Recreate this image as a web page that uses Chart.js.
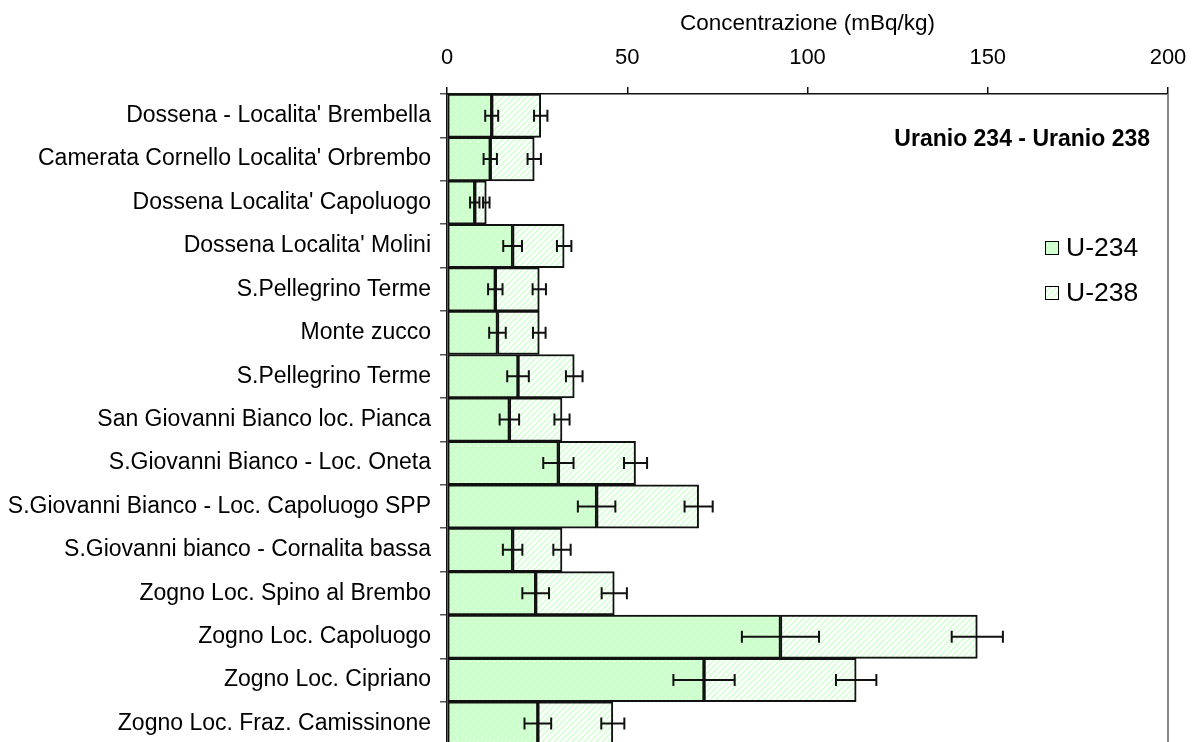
<!DOCTYPE html>
<html>
<head>
<meta charset="utf-8">
<script src="https://cdn.jsdelivr.net/npm/chart.js@4"></script>
<style>
  html,body{margin:0;padding:0;background:#fff;overflow:hidden}
  #wrap{width:1198px;height:768px;position:relative}
</style>
</head>
<body>
<div id="wrap"><canvas id="c"></canvas></div>
<script>
// ====== Dati ======
const siti = [
  "Dossena - Localita' Brembella",
  "Camerata Cornello Localita' Orbrembo",
  "Dossena Localita' Capoluogo",
  "Dossena Localita' Molini",
  "S.Pellegrino Terme",
  "Monte zucco",
  "S.Pellegrino Terme",
  "San Giovanni Bianco loc. Pianca",
  "S.Giovanni Bianco - Loc. Oneta",
  "S.Giovanni Bianco - Loc. Capoluogo SPP",
  "S.Giovanni bianco - Cornalita bassa",
  "Zogno Loc. Spino al Brembo",
  "Zogno Loc. Capoluogo",
  "Zogno Loc. Cipriano",
  "Zogno Loc. Fraz. Camissinone"
];
const u234    = [12.4, 12.0, 7.7, 18.2, 13.4, 14.0, 19.7, 17.3, 30.9, 41.5, 18.2, 24.6, 92.5, 71.3, 25.2];
const u238    = [13.6, 12.2, 3.2, 14.3, 12.2, 11.6, 15.6, 14.6, 21.4, 28.3, 13.7, 21.8, 54.6, 42.2, 20.8];
const err234  = [1.8, 1.85, 1.3, 2.6, 2.0, 2.3, 3.0, 2.7, 4.2, 5.2, 2.7, 3.7, 10.7, 8.5, 3.7];
const err238  = [1.85, 1.85, 0.9, 2.0, 1.85, 1.75, 2.3, 2.1, 3.2, 3.9, 2.4, 3.5, 7.1, 5.6, 3.2];
const xTicks  = [0, 50, 100, 150, 200];
const titolo  = 'Uranio 234 - Uranio 238';
const asseX   = 'Concentrazione (mBq/kg)';
const FONT    = '"Liberation Sans", Arial, sans-serif';

// ====== Pattern ======
function puntini(){
  const c=document.createElement('canvas'); c.width=c.height=8; const x=c.getContext('2d');
  x.fillStyle='#ccffcc'; x.fillRect(0,0,8,8);
  x.fillStyle='rgba(255,255,255,0.85)'; x.fillRect(1,1,1.5,1.5); x.fillRect(5,5,1.5,1.5);
  return x.createPattern(c,'repeat');
}
function righe(){
  const c=document.createElement('canvas'); c.width=c.height=6; const x=c.getContext('2d');
  x.fillStyle='#fff'; x.fillRect(0,0,6,6);
  x.strokeStyle='#d6ffd6'; x.lineWidth=1.6;
  x.beginPath(); x.moveTo(0,6); x.lineTo(6,0); x.moveTo(-3,3); x.lineTo(3,-3); x.moveTo(3,9); x.lineTo(9,3); x.stroke();
  return x.createPattern(c,'repeat');
}

// ====== Plugin: barre d'errore, titolo, legenda, bordo ======
const extra = {
  id:'extra',
  afterDatasetsDraw(chart){
    const {ctx, chartArea:a, scales:{x:xs, y:ys}} = chart;
    const errs=[err234, err238];
    ctx.save();
    ctx.strokeStyle='#111'; ctx.lineWidth=2;
    chart.data.datasets.forEach((ds,i)=>{
      ds.data.forEach((v,j)=>{
        let cum=0; for(let k=0;k<=i;k++) cum+=chart.data.datasets[k].data[j];
        const e=errs[i][j], y=ys.getPixelForValue(j);
        const x1=xs.getPixelForValue(cum-e), x2=xs.getPixelForValue(cum+e);
        ctx.beginPath();
        ctx.moveTo(x1,y); ctx.lineTo(x2,y);
        ctx.moveTo(x1,y-6); ctx.lineTo(x1,y+6);
        ctx.moveTo(x2,y-6); ctx.lineTo(x2,y+6);
        ctx.stroke();
      });
    });
    // bordo destro
    ctx.strokeStyle='#888'; ctx.lineWidth=2;
    ctx.beginPath(); ctx.moveTo(a.right,a.top); ctx.lineTo(a.right,a.bottom); ctx.stroke();
    // titolo
    ctx.fillStyle='#000'; ctx.font='bold 23px '+FONT;
    ctx.textAlign='right'; ctx.textBaseline='middle';
    ctx.fillText(titolo, 1150, 140);
    // legenda
    ctx.font='26.5px '+FONT; ctx.textAlign='left';
    chart.data.datasets.forEach((ds,i)=>{
      const cy=248+i*45;
      ctx.fillStyle=ds.backgroundColor; ctx.fillRect(1045,cy-7,14,14);
      ctx.strokeStyle='#000'; ctx.lineWidth=1; ctx.strokeRect(1045.5,cy-6.5,13,13);
      ctx.fillStyle='#000'; ctx.fillText(ds.label, 1066, cy+1);
    });
    ctx.restore();
  }
};

// ====== Grafico ======
new Chart(document.getElementById('c'), {
  type:'bar',
  data:{
    labels: siti,
    datasets:[
      {label:'U-234', data:u234, backgroundColor:puntini(), borderColor:'#111', borderWidth:2, borderSkipped:false},
      {label:'U-238', data:u238, backgroundColor:righe(),   borderColor:'#111', borderWidth:2, borderSkipped:false}
    ]
  },
  options:{
    indexAxis:'y', responsive:true, maintainAspectRatio:false, animation:false,
    barPercentage:1, categoryPercentage:1,
    layout:{padding:{left:0,right:30,top:0,bottom:0}},
    plugins:{legend:{display:false}, tooltip:{enabled:false}},
    scales:{
      x:{
        position:'top', stacked:true, min:0, max:200,
        afterFit:s=>{ s.height=94; s.paddingLeft=0; s.paddingRight=10; },
        afterBuildTicks:s=>{ s.ticks=xTicks.map(v=>({value:v})); },
        grid:{drawOnChartArea:false, drawTicks:true, tickLength:7, color:'#111', lineWidth:1.5},
        border:{display:true, color:'#111', width:1.5},
        ticks:{color:'#000', font:{family:FONT, size:22}, padding:16, maxRotation:0},
        title:{display:true, text:asseX, color:'#000', font:{family:FONT, size:22.5}, padding:{top:10,bottom:0}}
      },
      y:{
        stacked:true,
        afterFit:s=>{ s.width=447; },
        grid:{drawOnChartArea:false, drawTicks:true, tickLength:7, color:'#555', lineWidth:1.5, offset:true},
        border:{display:true, color:'#111', width:1.5},
        ticks:{color:'#000', font:{family:FONT, size:23}, padding:9, autoSkip:false}
      }
    }
  },
  plugins:[extra]
});
</script>
</body>
</html>
